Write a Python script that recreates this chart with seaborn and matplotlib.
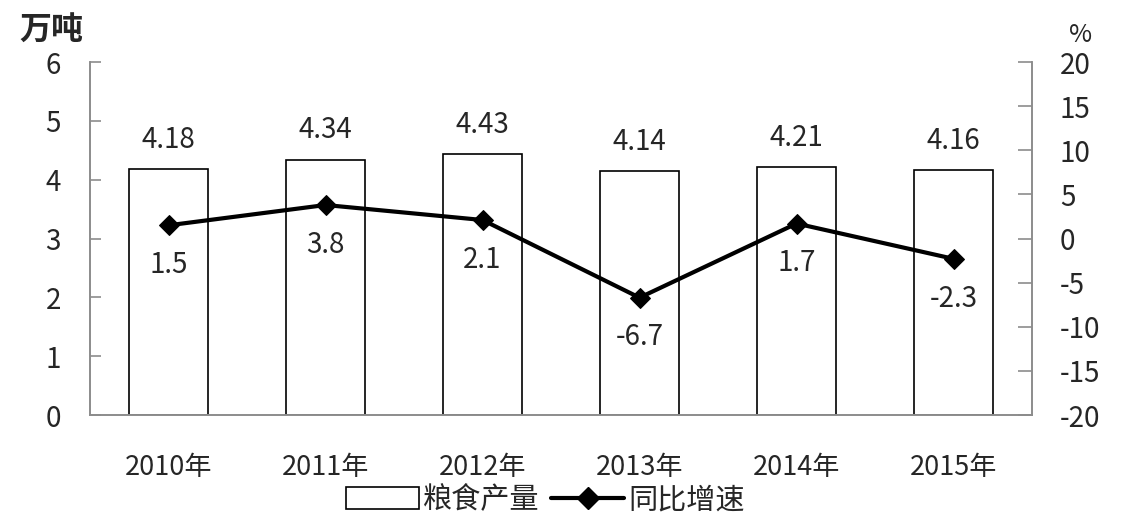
import numpy as np
import pandas as pd
import matplotlib
matplotlib.use("Agg")
import matplotlib.pyplot as plt
from matplotlib.lines import Line2D
from matplotlib.patches import Patch
import seaborn as sns

sns.set_style("white")
plt.rcParams["font.family"] = ["Noto Sans CJK SC", "DejaVu Sans"]
plt.rcParams["axes.unicode_minus"] = False

# data
years = ["2010年", "2011年", "2012年", "2013年", "2014年", "2015年"]
output = [4.18, 4.34, 4.43, 4.14, 4.21, 4.16]   # 粮食产量, 万吨
growth = [1.5, 3.8, 2.1, -6.7, 1.7, -2.3]       # 同比增速, %

df = pd.DataFrame({"year": years, "output": output, "growth": growth})

fig = plt.figure(figsize=(11.34, 5.26), dpi=100)
ax = fig.add_axes([0.0794, 0.211, 0.8307, 0.671])

sns.barplot(data=df, x="year", y="output", ax=ax, color="white",
            edgecolor="black", linewidth=1.2, width=0.5, saturation=1)
for i, v in enumerate(output):
    ax.text(i, v + 0.5, f"{v:.2f}", ha="center", va="center", fontsize=20)

ax.set_ylim(0, 6)
ax.set_xlim(-0.5, 5.5)
ax.set_yticks(range(0, 7))
ax.set_xlabel("")
ax.set_ylabel("")

ax2 = ax.twinx()
sns.lineplot(x=np.arange(len(years)), y=growth, ax=ax2, color="black",
             linewidth=3, marker="D", markersize=10, markeredgecolor="black")
for i, v in enumerate(growth):
    ax2.text(i, v - 4.5, f"{v}", ha="center", va="center", fontsize=20)
ax2.set_ylim(-20, 20)
ax2.set_yticks(range(-20, 21, 5))
ax2.set_xlim(-0.5, 5.5)

grey = "#8c8c8c"
for a in (ax, ax2):
    a.spines["top"].set_visible(False)
    for s in ("left", "right", "bottom"):
        a.spines[s].set_color(grey)
        a.spines[s].set_linewidth(1.2)
    a.grid(False)

ax.tick_params(axis="y", direction="in", length=8, color=grey, width=1.2,
               labelsize=20, pad=21)
ax.tick_params(axis="x", length=0, labelsize=19.5, pad=28)
ax2.tick_params(axis="y", direction="in", length=10, color=grey, width=1.2,
                labelsize=20, pad=20)

fig.text(0.017, 0.942, "万吨", fontsize=23, fontweight="bold", ha="left", va="center")
fig.text(0.953, 0.933, "%", fontsize=18, ha="center", va="center")

handles = [Patch(facecolor="white", edgecolor="black", linewidth=1.2),
           Line2D([0], [0], color="black", linewidth=3, marker="D", markersize=11)]
fig.legend(handles, ["粮食产量", "同比增速"], loc="center", bbox_to_anchor=(0.481, 0.049),
           ncol=2, frameon=False, fontsize=21, handlelength=2.5, handleheight=0.8,
           handletextpad=0.15, columnspacing=0.4)

fig.savefig("out.png", dpi=100)
